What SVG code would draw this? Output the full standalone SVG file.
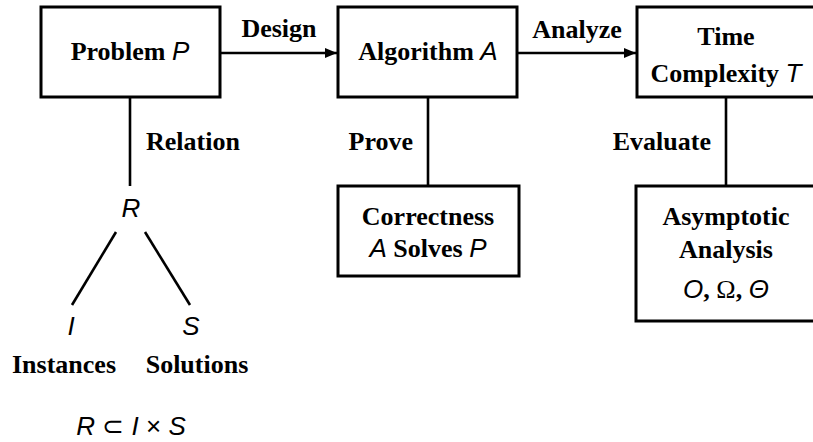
<svg xmlns="http://www.w3.org/2000/svg" width="813" height="442" viewBox="0 0 813 442">
<style>
.box{fill:#fff;stroke:#000;stroke-width:3}
.ln{stroke:#000;stroke-width:2.6;fill:none}
.t{font-family:"Liberation Serif","Times New Roman",serif;font-weight:bold;font-size:26px;fill:#000}
.m{font-family:"Liberation Sans",Arial,sans-serif;font-style:italic;font-weight:normal}
.s{font-family:"Liberation Sans",Arial,sans-serif;font-weight:normal}
.g{font-family:"Liberation Serif","Times New Roman",serif;font-weight:normal}
</style>
<defs>
<marker id="ah" markerWidth="12" markerHeight="10" refX="12" refY="5" orient="auto" markerUnits="userSpaceOnUse">
<path d="M0,0 L12,5 L0,10 Z" fill="#000"/>
</marker>
</defs>
<g id="connectors">
<line class="ln" x1="221" y1="53" x2="337" y2="53" marker-end="url(#ah)"/>
<line class="ln" x1="518" y1="53" x2="636" y2="53" marker-end="url(#ah)"/>
<line class="ln" x1="130" y1="97" x2="130" y2="186"/>
<line class="ln" x1="428" y1="97" x2="428" y2="186"/>
<line class="ln" x1="726" y1="97" x2="726" y2="186"/>
<line class="ln" x1="116" y1="232" x2="72" y2="305"/>
<line class="ln" x1="145" y1="232" x2="190" y2="305"/>
<text class="t" x="279" y="37" text-anchor="middle">Design</text>
<text class="t" x="577" y="38" text-anchor="middle">Analyze</text>
<text class="t" x="146" y="150">Relation</text>
<text class="t" x="413" y="150" text-anchor="end">Prove</text>
<text class="t" x="711" y="150" text-anchor="end">Evaluate</text>
</g>
<g id="problem">
<rect class="box" x="41" y="7" width="179" height="90"/>
<text class="t" x="130" y="60" text-anchor="middle">Problem <tspan class="m">P</tspan></text>
</g>
<g id="algorithm">
<rect class="box" x="338" y="7" width="179" height="90"/>
<text class="t" x="428" y="60" text-anchor="middle">Algorithm <tspan class="m">A</tspan></text>
</g>
<g id="time">
<rect class="box" x="637" y="7" width="180" height="90"/>
<text class="t" x="726" y="45" text-anchor="middle">Time</text>
<text class="t" x="726" y="82" text-anchor="middle">Complexity <tspan class="m">T</tspan></text>
</g>
<g id="correctness">
<rect class="box" x="338" y="186" width="181" height="90"/>
<text class="t" x="428" y="225" text-anchor="middle">Correctness</text>
<text class="t" x="428" y="257" text-anchor="middle"><tspan class="m">A</tspan> Solves <tspan class="m">P</tspan></text>
</g>
<g id="asymptotic">
<rect class="box" x="636" y="186" width="181" height="135"/>
<text class="t" x="726" y="225" text-anchor="middle">Asymptotic</text>
<text class="t" x="726" y="258" text-anchor="middle">Analysis</text>
<text class="t" x="726" y="298" text-anchor="middle"><tspan class="m">O</tspan>, <tspan class="g">Ω</tspan>, <tspan class="m">Θ</tspan></text>
</g>
<g id="relation">
<text class="t m" x="131" y="217" text-anchor="middle">R</text>
</g>
<g id="instances">
<text class="t m" x="71" y="335" text-anchor="middle">I</text>
<text class="t" x="64" y="373" text-anchor="middle">Instances</text>
</g>
<g id="solutions">
<text class="t m" x="191" y="335" text-anchor="middle">S</text>
<text class="t" x="197" y="373" text-anchor="middle">Solutions</text>
</g>
<g id="formula">
<text class="t s" x="131" y="435" text-anchor="middle"><tspan class="m">R</tspan> ⊂ <tspan class="m">I</tspan> × <tspan class="m">S</tspan></text>
</g>
</svg>
